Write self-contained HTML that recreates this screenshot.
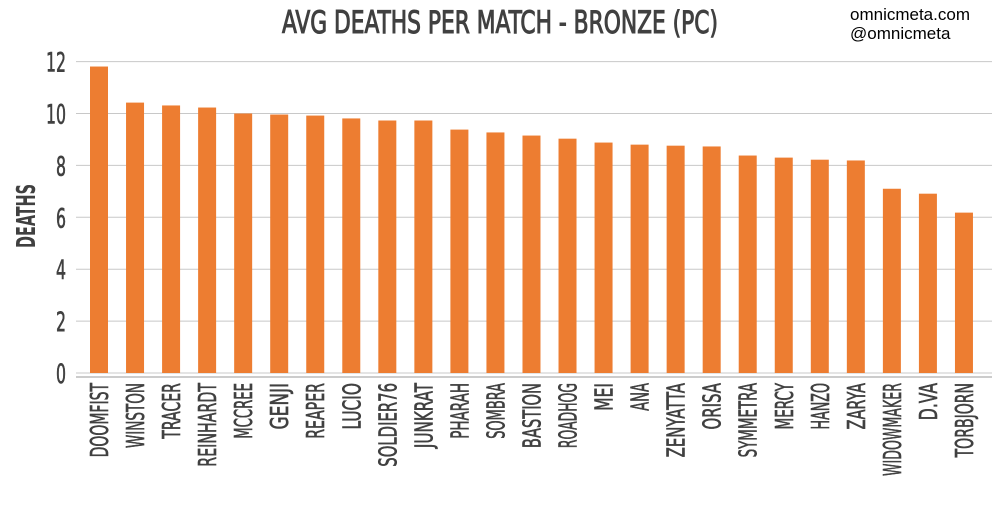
<!DOCTYPE html>
<html><head><meta charset="utf-8"><style>
html,body{margin:0;padding:0;background:#fff;}
svg text{font-family:"Liberation Sans Narrow","DejaVu Sans Condensed","Liberation Sans",sans-serif;font-weight:bold;fill:#404040;}
.semi{font-weight:normal;stroke:#404040;stroke-width:0.6px;}
</style></head><body>
<svg id="chart" width="1000" height="500" xmlns="http://www.w3.org/2000/svg">
<text class="semi" x="500" y="33" text-anchor="middle" font-size="31" textLength="436" lengthAdjust="spacingAndGlyphs" style="stroke-width:1px">AVG DEATHS PER MATCH - BRONZE (PC)</text>
<text x="850" y="20" font-size="17" style="font-family:'Liberation Sans',sans-serif;font-weight:normal;fill:#000">omnicmeta.com</text>
<text x="850" y="39" font-size="17" style="font-family:'Liberation Sans',sans-serif;font-weight:normal;fill:#000">@omnicmeta</text>
<text transform="translate(35,216) rotate(-90)" text-anchor="middle" font-size="26" textLength="64" lengthAdjust="spacingAndGlyphs">DEATHS</text>
<g id="grid"></g><g id="bars"></g><g id="labels"></g>
</svg>
<script>
const categories=["DOOMFIST","WINSTON","TRACER","REINHARDT","MCCREE","GENJI","REAPER","LUCIO","SOLDIER76","JUNKRAT","PHARAH","SOMBRA","BASTION","ROADHOG","MEI","ANA","ZENYATTA","ORISA","SYMMETRA","MERCY","HANZO","ZARYA","WIDOWMAKER","D.VA","TORBJORN"];
const deaths=[11.81,10.42,10.31,10.23,10.0,9.96,9.92,9.81,9.73,9.73,9.38,9.27,9.15,9.03,8.88,8.80,8.76,8.73,8.38,8.30,8.22,8.19,7.10,6.91,6.18];
const yTicks=[0,2,4,6,8,10,12];
const NS="http://www.w3.org/2000/svg";
const y0=373,pxPerUnit=25.95,left=76,right=992,step=36.04,x0=99,barW=18;
const y=v=>y0-v*pxPerUnit;
const x=i=>x0+i*step;
const grid=document.getElementById('grid'),bars=document.getElementById('bars'),labels=document.getElementById('labels');
function mk(tag,attrs,parent){const e=document.createElementNS(NS,tag);for(const k in attrs)e.setAttribute(k,attrs[k]);parent.appendChild(e);return e;}
yTicks.forEach(t=>{
  const l=mk('line',{x1:left,x2:right,y1:y(t),y2:y(t),stroke:'#c8c8c8','stroke-width':1},grid);
  
  
  const s=String(t);
  const tx=mk('text',{class:'semi',x:66,y:y(t)+10,'text-anchor':'end','font-size':27,textLength:s.length*10,lengthAdjust:'spacingAndGlyphs'},grid);
  tx.textContent=s;
  
  
});
mk('line',{x1:left,x2:right,y1:377,y2:377,stroke:'#bbb','stroke-width':1.5},grid);
categories.forEach((c,i)=>{
  const r=mk('rect',{x:x(i)-barW/2,y:y(deaths[i]),width:barW,height:y0-y(deaths[i]),fill:'#ed7d31'},bars);
  
  
  const t=mk('text',{class:'semi',transform:`translate(${x(i)+9},383) rotate(-90)`,'text-anchor':'end','font-size':25,textLength:c.length*9.3,lengthAdjust:'spacingAndGlyphs'},labels);
  t.textContent=c;
  
  
});
</script>
</body></html>
